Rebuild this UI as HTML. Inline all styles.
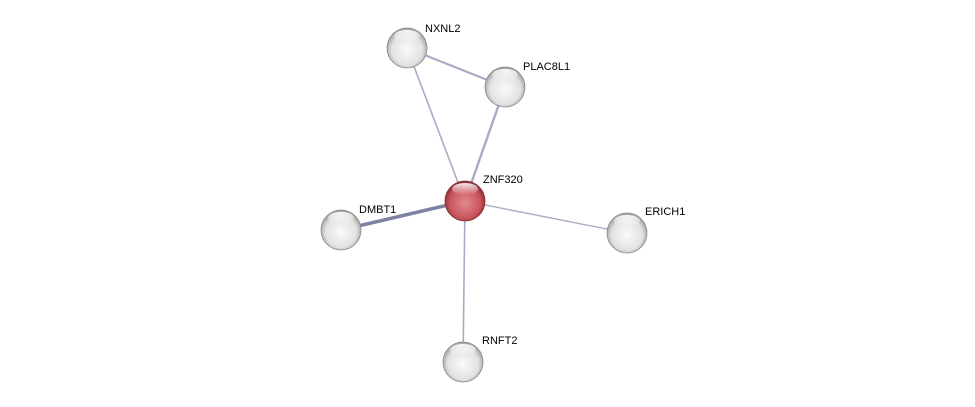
<!DOCTYPE html>
<html><head><style>body{margin:0;background:#fff}svg{display:block}</style></head><body>
<svg width="975" height="407" xmlns="http://www.w3.org/2000/svg" font-family="Liberation Sans, sans-serif" font-size="11">
<defs>
<radialGradient id="g" cx="50%" cy="55%" r="55%"><stop offset="0" stop-color="#fafafa"/><stop offset="0.7" stop-color="#e2e2e2"/><stop offset="1" stop-color="#9a9a9a"/></radialGradient>
<radialGradient id="r" cx="50%" cy="55%" r="55%"><stop offset="0" stop-color="#e08a8f"/><stop offset="0.7" stop-color="#c9545c"/><stop offset="1" stop-color="#8a2a30"/></radialGradient>
<linearGradient id="h" x1="0" y1="0" x2="0" y2="1"><stop offset="0" stop-color="#fff" stop-opacity="0.9"/><stop offset="1" stop-color="#fff" stop-opacity="0"/></linearGradient>
</defs>
<g stroke="#a9abc4" fill="none">
<line x1="407" y1="48" x2="465" y2="201" stroke-width="1.6"/>
<line x1="407" y1="48" x2="505" y2="87" stroke-width="2.2"/>
<line x1="505" y1="87" x2="465" y2="201" stroke-width="2.4"/>
<line x1="465" y1="201" x2="341" y2="230" stroke-width="3.5" stroke="#7e81a3"/>
<line x1="465" y1="201" x2="627" y2="233" stroke-width="1.4"/>
<line x1="465" y1="201" x2="463" y2="362" stroke-width="1.6"/>
</g>
<g stroke="#888" stroke-width="0.8">
<circle cx="407" cy="48" r="20" fill="url(#g)"/>
<circle cx="505" cy="87" r="20" fill="url(#g)"/>
<circle cx="341" cy="230" r="20" fill="url(#g)"/>
<circle cx="627" cy="233" r="20" fill="url(#g)"/>
<circle cx="463" cy="362" r="20" fill="url(#g)"/>
<circle cx="465" cy="201" r="20" fill="url(#r)" stroke="#7a2a30"/>
</g>
<g fill="url(#h)">
<ellipse cx="407" cy="36" rx="13" ry="6"/><ellipse cx="505" cy="75" rx="13" ry="6"/><ellipse cx="341" cy="218" rx="13" ry="6"/><ellipse cx="627" cy="221" rx="13" ry="6"/><ellipse cx="463" cy="350" rx="13" ry="6"/><ellipse cx="465" cy="189" rx="13" ry="6"/>
</g>
<g fill="#000">
<text x="425" y="32">NXNL2</text>
<text x="523" y="70">PLAC8L1</text>
<text x="483" y="183">ZNF320</text>
<text x="359" y="213">DMBT1</text>
<text x="645" y="215">ERICH1</text>
<text x="482" y="344">RNFT2</text>
</g>
</svg>
</body></html>
